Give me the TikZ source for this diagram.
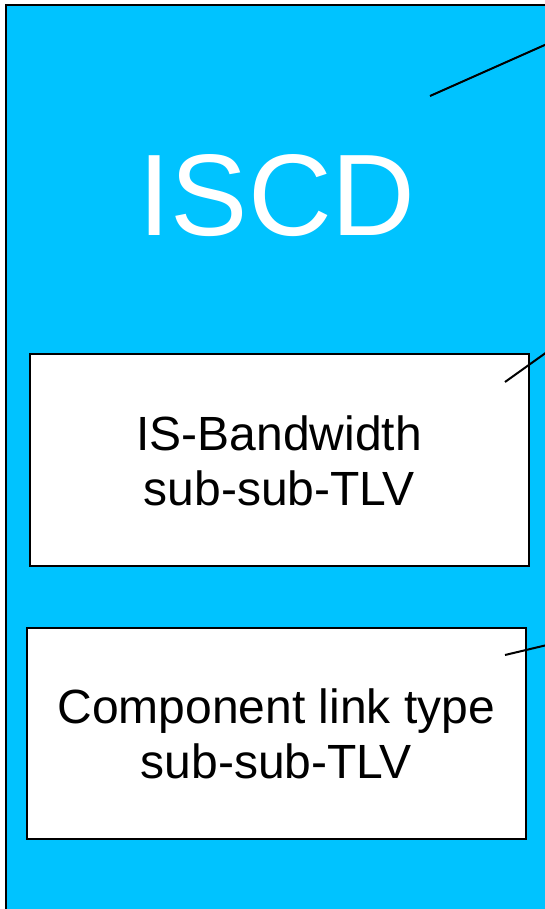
\documentclass[tikz,border=0pt]{standalone}
\usepackage{fontspec}
\setmainfont{Liberation Sans}
\definecolor{iscdblue}{HTML}{00C3FF}
\begin{document}
\begin{tikzpicture}[x=1pt,y=-1pt,
  subbox/.style={draw=black,line width=1.5pt,fill=white,inner sep=0pt},
  leader/.style={draw=black,line width=2pt},
  boxtext/.style={font=\fontsize{48}{55}\selectfont,align=center,text=black}]
\useasboundingbox (0,0) rectangle (545,909);
\fill[white] (0,0) rectangle (545,909);
\path[fill=iscdblue,draw=black,line width=2pt] (6,5) rectangle (560,925);
\node[text=white,font=\fontsize{116}{116}\selectfont,anchor=base,inner sep=0pt] (iscd) at (277,236) {ISCD};
\node[subbox,minimum width=499pt,minimum height=212pt,anchor=north west] (b1) at (29,353) {};
\node[boxtext] (t1) at ([yshift=-1pt]b1.center) {IS-Bandwidth\\sub-sub-TLV};
\node[subbox,minimum width=499pt,minimum height=211pt,anchor=north west] (b2) at (26,627) {};
\node[boxtext] (t2) at ([yshift=-1pt]b2.center) {Component link type\\sub-sub-TLV};
\coordinate (a1) at (430,96);
\coordinate (e1) at (547,44);
\coordinate (a2) at (505,382);
\coordinate (e2) at (547,352);
\coordinate (a3) at (505,655);
\coordinate (e3) at (547,645);
\draw[leader] (a1) -- (e1);
\draw[leader] (a2) -- (e2);
\draw[leader] (a3) -- (e3);
\end{tikzpicture}
\end{document}
